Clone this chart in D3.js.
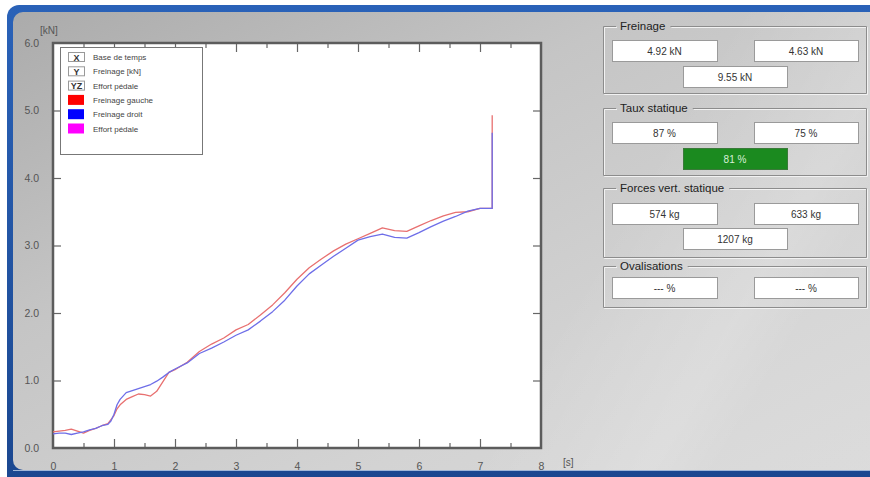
<!DOCTYPE html>
<html><head><meta charset="utf-8">
<script src="https://cdn.jsdelivr.net/npm/d3@7"></script>
<style>
body{margin:0;background:#fff;overflow:hidden;}
svg{display:block;}
text{font-family:"Liberation Sans Narrow","Liberation Sans",Arial,sans-serif;}
</style>
</head><body>
<svg id="c" width="870" height="477"></svg>
<script>
// ---------- DATA ----------
const timeS = [0,0.1,0.2,0.3,0.4,0.5,0.6,0.7,0.8,0.9,0.95,1.0,1.05,1.1,1.2,1.3,1.4,1.5,1.6,1.7,1.8,1.9,2.0,2.2,2.4,2.6,2.8,3.0,3.2,3.4,3.6,3.8,4.0,4.2,4.4,4.6,4.8,5.0,5.2,5.4,5.6,5.8,6.0,6.2,6.4,6.6,6.8,7.0,7.2,7.2];
const freinageGauche = [0.24,0.25,0.26,0.28,0.25,0.22,0.26,0.29,0.33,0.36,0.42,0.48,0.58,0.64,0.72,0.76,0.80,0.79,0.77,0.84,0.98,1.12,1.16,1.27,1.43,1.54,1.63,1.75,1.83,1.97,2.12,2.30,2.50,2.67,2.80,2.92,3.02,3.10,3.18,3.26,3.22,3.21,3.29,3.37,3.44,3.49,3.50,3.55,3.55,4.93];
const freinageDroit  = [0.21,0.22,0.22,0.20,0.22,0.24,0.27,0.29,0.33,0.35,0.40,0.50,0.64,0.72,0.82,0.85,0.88,0.91,0.94,0.99,1.05,1.12,1.17,1.26,1.40,1.48,1.57,1.67,1.75,1.88,2.02,2.19,2.40,2.58,2.71,2.84,2.96,3.08,3.13,3.17,3.12,3.11,3.19,3.28,3.36,3.43,3.51,3.55,3.55,4.67];
const xTickValues = [0,1,2,3,4,5,6,7,8];
const xMinorTickValues = [0.5,1.5,2.5,3.5,4.5,5.5,6.5,7.5];
const yTickValues = [0,1,2,3,4,5,6];
const legendLabels = ["Base de temps","Freinage [kN]","Effort pédale","Freinage gauche","Freinage droit","Effort pédale"];
const legendKeys = ["X","Y","YZ","","",""];
const legendColors = [null,null,null,"#ff0000","#0000ff","#ff00ff"];
const panelTitles = ["Freinage","Taux statique","Forces vert. statique","Ovalisations"];
const panelValues = [
  ["4.92 kN","4.63 kN","9.55 kN"],
  ["87 %","75 %","81 %"],
  ["574 kg","633 kg","1207 kg"],
  ["--- %","--- %"]
];

// ---------- LAYOUT ----------
const svg = d3.select("#c");
const defs = svg.append("defs");
const bg = defs.append("linearGradient").attr("id","bg").attr("x1",0).attr("y1",0).attr("x2",1).attr("y2",1);
bg.append("stop").attr("offset",0).attr("stop-color","#ababab");
bg.append("stop").attr("offset",0.35).attr("stop-color","#c5c5c5");
bg.append("stop").attr("offset",0.7).attr("stop-color","#d3d3d3");
bg.append("stop").attr("offset",1).attr("stop-color","#dadada");
const sheen = defs.append("linearGradient").attr("id","sheen").attr("x1",0).attr("y1",0).attr("x2",1).attr("y2",0.3);
sheen.append("stop").attr("offset",0).attr("stop-color","#fff").attr("stop-opacity",0);
sheen.append("stop").attr("offset",0.75).attr("stop-color","#fff").attr("stop-opacity",0.0);
sheen.append("stop").attr("offset",0.93).attr("stop-color","#fff").attr("stop-opacity",0.18);
sheen.append("stop").attr("offset",1).attr("stop-color","#fff").attr("stop-opacity",0.05);
const blu = defs.append("linearGradient").attr("id","blu").attr("x1",0).attr("y1",0).attr("x2",0).attr("y2",1);
blu.append("stop").attr("offset",0).attr("stop-color","#2a62b8");
blu.append("stop").attr("offset",1).attr("stop-color","#1a468e");

// window frame
svg.append("rect").attr("x",7).attr("y",5).attr("width",900).attr("height",500).attr("rx",12).attr("fill","url(#blu)");
svg.append("rect").attr("x",13).attr("y",12).attr("width",890).attr("height",458).attr("rx",10).attr("fill","url(#bg)");
svg.append("rect").attr("x",13).attr("y",12).attr("width",890).attr("height",458).attr("rx",10).attr("fill","url(#sheen)");
svg.append("line").attr("x1",13).attr("x2",870).attr("y1",470.5).attr("y2",470.5).attr("stroke","#9fb6d8").attr("stroke-width",1);

// ---------- CHART ----------
const x = d3.scaleLinear().domain([0,8]).range([53,541]);
const y = d3.scaleLinear().domain([0,6]).range([448,43]);

svg.append("rect").attr("x",x(0)).attr("y",y(6)).attr("width",x(8)-x(0)).attr("height",y(0)-y(6)).attr("fill","#fff");

const tickCol = "#666";
const gB = svg.append("g").attr("transform",`translate(0,${y(0)})`)
  .call(d3.axisBottom(x).tickValues(xTickValues).tickFormat(d3.format("d")).tickSizeInner(-9).tickSizeOuter(0).tickPadding(15));
const gBm = svg.append("g").attr("transform",`translate(0,${y(0)})`)
  .call(d3.axisBottom(x).tickValues(xMinorTickValues).tickFormat("").tickSizeInner(-5).tickSizeOuter(0));
const gT = svg.append("g").attr("transform",`translate(0,${y(6)})`)
  .call(d3.axisTop(x).tickValues(xTickValues).tickFormat("").tickSizeInner(-9).tickSizeOuter(0));
const gTm = svg.append("g").attr("transform",`translate(0,${y(6)})`)
  .call(d3.axisTop(x).tickValues(xMinorTickValues).tickFormat("").tickSizeInner(-5).tickSizeOuter(0));
const gL = svg.append("g").attr("transform",`translate(${x(0)},0)`)
  .call(d3.axisLeft(y).tickValues(yTickValues).tickFormat(d3.format(".1f")).tickSizeInner(-8).tickSizeOuter(0).tickPadding(14));
const gR = svg.append("g").attr("transform",`translate(${x(8)},0)`)
  .call(d3.axisRight(y).tickValues(yTickValues).tickFormat("").tickSizeInner(-8).tickSizeOuter(0));
[gB,gBm,gT,gTm,gL,gR].forEach(g=>{
  g.select(".domain").remove();
  g.selectAll(".tick line").attr("stroke",tickCol).attr("stroke-width",1.2);
  g.selectAll(".tick text").attr("fill","#555").attr("font-size",10.5);
});
gL.selectAll(".tick line").filter(d=>d===0||d===6).remove();
gR.selectAll(".tick line").filter(d=>d===0||d===6).remove();
gB.selectAll(".tick line").filter(d=>d===0||d===8).remove();
gT.selectAll(".tick line").filter(d=>d===0||d===8).remove();

svg.append("rect").attr("x",x(0)).attr("y",y(6)).attr("width",x(8)-x(0)).attr("height",y(0)-y(6))
  .attr("fill","none").attr("stroke","#5c5c5c").attr("stroke-width",2.5);

svg.append("text").attr("x",40).attr("y",34).attr("fill","#555").attr("font-size",10).text("[kN]");
svg.append("text").attr("x",563).attr("y",y(0)+18).attr("fill","#555").attr("font-size",10).text("[s]");

// lines
const seriesG = svg.append("g");
const line = d3.line().x(d=>x(d[0])).y(d=>y(d[1]));
seriesG.append("path").datum(timeS.map((t,i)=>[t,freinageGauche[i]]))
  .attr("d",line).attr("fill","none").attr("stroke","#e87070").attr("stroke-width",1.3).attr("stroke-linejoin","round");
seriesG.append("path").datum(timeS.map((t,i)=>[t,freinageDroit[i]]))
  .attr("d",line).attr("fill","none").attr("stroke","#6e6ee8").attr("stroke-width",1.3).attr("stroke-linejoin","round");

// legend
const lg = svg.append("g");
lg.append("rect").attr("x",60.5).attr("y",47.5).attr("width",142).attr("height",107)
  .attr("fill","#fff").attr("stroke","#777").attr("stroke-width",1);
legendLabels.forEach((lab,i)=>{
  const cy = 57 + i*14.3;
  if (legendColors[i]) {
    lg.append("rect").attr("x",68).attr("y",cy-5).attr("width",16).attr("height",10).attr("fill",legendColors[i]);
  } else {
    lg.append("rect").attr("x",68.5).attr("y",cy-4.5).attr("width",16).attr("height",9)
      .attr("fill","#fff").attr("stroke","#999");
    lg.append("text").attr("x",76.5).attr("y",cy+3.5).attr("text-anchor","middle")
      .attr("font-size",9).attr("font-weight","bold").attr("fill","#333").text(legendKeys[i]);
  }
  lg.append("text").attr("x",93).attr("y",cy+3).attr("font-size",8).attr("fill","#444").text(lab);
});

// ---------- PANELS ----------
const boxL = 603, boxR = 866;
const panelTop = [26,108,188,266];
const panelBottom = [93,175,257,307];
const row1Top = [40,122,203,277];
const row2Top = [66,148,228,null];
const fieldH = 21;
const colL = [612,717], colR = [754,858], colC = [683,787];
panelTitles.forEach((title,i)=>{
  const g = svg.append("g");
  const t = g.append("text").attr("x",620).attr("y",panelTop[i]+4).attr("font-size",11.5).attr("fill","#222").text(title);
  const tw = t.node().getComputedTextLength();
  const x0 = boxL+0.5, x1 = boxR+0.5, y0 = panelTop[i]+0.5, y1 = panelBottom[i]+0.5;
  const gapA = 616, gapB = 620+tw+5;
  const path = `M${gapA},${y0}H${x0}V${y1}H${x1}V${y0}H${gapB}`;
  g.insert("path","text").attr("d",path).attr("fill","none").attr("stroke","#f2f2f2").attr("stroke-width",1).attr("transform","translate(1,1)");
  g.insert("path","text").attr("d",path).attr("fill","none").attr("stroke","#8c8c8c").attr("stroke-width",1);
  const vals = panelValues[i];
  const fields = [[colL,row1Top[i]],[colR,row1Top[i]]];
  if (vals.length>2) fields.push([colC,row2Top[i]]);
  fields.forEach(([c,top],k)=>{
    const green = (i===1 && k===2);
    g.append("rect").attr("x",c[0]+0.5).attr("y",top+0.5).attr("width",c[1]-c[0]).attr("height",fieldH)
      .attr("fill",green?"#1b8a1f":"#fff").attr("stroke",green?"#3a7a3a":"#9a9a9a").attr("stroke-width",1);
    g.append("text").attr("x",(c[0]+c[1])/2).attr("y",top+fieldH/2+4).attr("text-anchor","middle")
      .attr("font-size",10).attr("fill",green?"#d8f0d8":"#333").text(vals[k]);
  });
});
</script>
</body></html>
